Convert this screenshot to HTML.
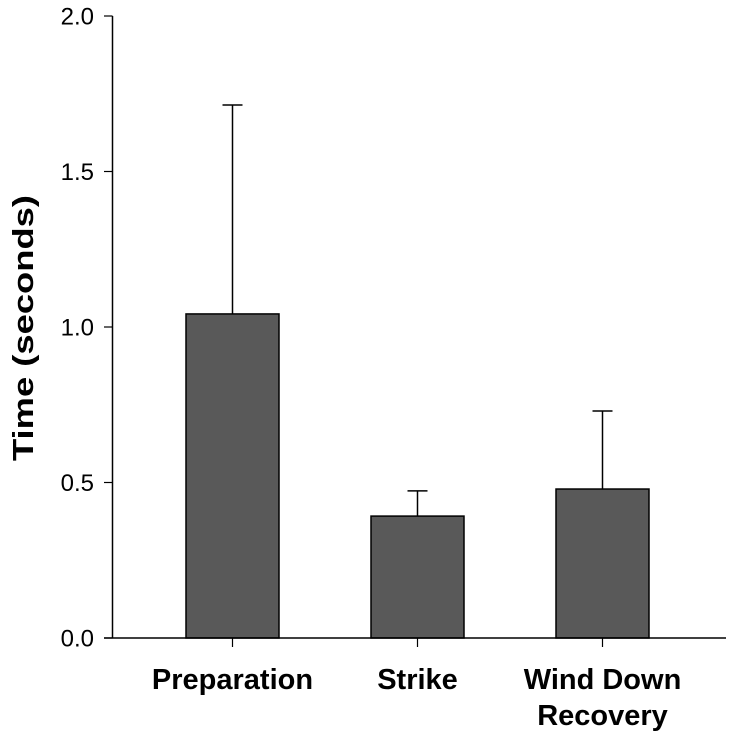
<!DOCTYPE html>
<html><head><meta charset="utf-8"><style>
html,body{margin:0;padding:0;background:#fff;}
svg{display:block;font-family:"Liberation Sans",Arial,sans-serif;}
</style></head><body>
<svg id="chart" width="730" height="737"></svg>
<script>
const categories = ["Preparation", "Strike", "Wind Down|Recovery"];
const means = [1.042, 0.392, 0.479];
const errors = [0.672, 0.081, 0.251];
const yTicks = [0.0, 0.5, 1.0, 1.5, 2.0];
const tickLabels = ["0.0", "0.5", "1.0", "1.5", "2.0"];

const NS = "http://www.w3.org/2000/svg";
const svg = document.getElementById("chart");
const x0 = 112.5, y0 = 638, yTop = 16, yMax = 2.0;
const y = v => y0 - (v / yMax) * (y0 - yTop);
const centers = [232.5, 417.5, 602.5];
const bw = 93;
const xc = i => centers[0] + i * (centers[1] - centers[0]);

function mk(tag, attrs, parent) {
  const e = document.createElementNS(NS, tag);
  for (const k in attrs) e.setAttribute(k, attrs[k]);
  (parent || svg).appendChild(e);
  return e;
}

categories.forEach((c, i) => {
  const cx = xc(i);
  const top = y(means[i] + errors[i]);
  const el = mk("line", {x1: cx, x2: cx, y1: y(means[i]), y2: top, stroke: "#000", "stroke-width": 1.5});
  
  
  const cap = mk("line", {x1: cx - 10, x2: cx + 10, y1: top, y2: top, stroke: "#000", "stroke-width": 1.5});
  
  
  const r = mk("rect", {x: cx - bw / 2, y: y(means[i]), width: bw, height: y0 - y(means[i]), fill: "#595959", stroke: "#000", "stroke-width": 1.5});
  
  
  const t = mk("line", {x1: cx, x2: cx, y1: y0, y2: y0 + 9, stroke: "#000", "stroke-width": 1.2});
  
  
  const lines = c.split("|");
  lines.forEach((ln, j) => {
    const tx = mk("text", {x: cx, y: 689 + j * 36, "text-anchor": "middle", "font-size": 29, "font-weight": "bold"});
    tx.textContent = ln;
    
    
  });
});

const ya = mk("line", {x1: x0, x2: x0, y1: yTop, y2: y0, stroke: "#000", "stroke-width": 1.5});


const xa = mk("line", {x1: 104, x2: 726, y1: y0, y2: y0, stroke: "#000", "stroke-width": 1.5});



yTicks.forEach((v, i) => {
  const t = mk("line", {x1: 104, x2: x0, y1: y(v), y2: y(v), stroke: "#000", "stroke-width": 1.2});
  
  
  const tx = mk("text", {x: 94, y: y(v) + 8.5, "text-anchor": "end", "font-size": 24});
  tx.textContent = tickLabels[i];
  
  
});

const title = mk("text", {x: 0, y: 0, "text-anchor": "middle", "font-size": 29, "font-weight": "bold", textLength: 266, lengthAdjust: "spacingAndGlyphs", transform: "translate(33,328) rotate(-90)"});
title.textContent = "Time (seconds)";


</script>
</body></html>
